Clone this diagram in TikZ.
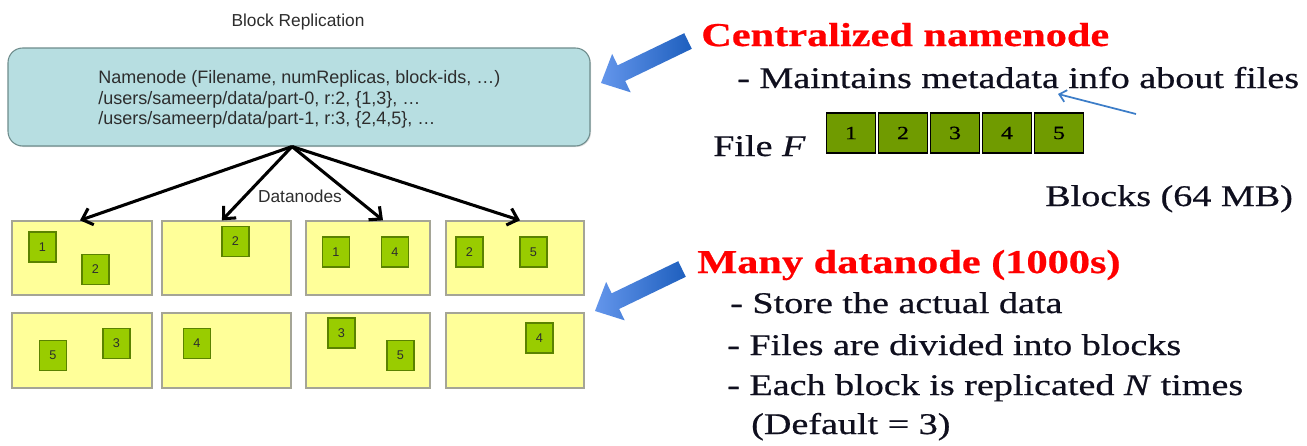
\documentclass[tikz,border=0pt]{standalone}
\usepackage{fontspec}
\setmainfont{Liberation Sans}
\newfontfamily\slide[FakeStretch=1.27,FakeBold=0.6]{Liberation Serif}
\usetikzlibrary{arrows.meta,calc,shadows}

\definecolor{nnfill}{RGB}{183,222,225}
\definecolor{nnedge}{RGB}{110,140,140}
\definecolor{dnfill}{RGB}{255,255,153}
\definecolor{dnedge}{RGB}{165,165,150}
\definecolor{blkfill}{RGB}{153,204,0}
\definecolor{blkedge}{RGB}{90,130,0}
\definecolor{strip}{RGB}{112,155,0}
\definecolor{hot}{RGB}{255,0,0}
\definecolor{ink}{RGB}{15,15,30}
\definecolor{grey}{RGB}{45,45,45}
\definecolor{pointer}{RGB}{60,125,200}
\definecolor{bigA}{RGB}{100,150,235}
\definecolor{bigB}{RGB}{30,95,190}

\tikzset{
  namebox/.style={draw=nnedge, fill=nnfill, rounded corners=11pt, line width=0.8pt,
    drop shadow={shadow xshift=0.8pt, shadow yshift=-0.8pt, opacity=0.25}},
  dn/.style={draw=dnedge, fill=dnfill, line width=1pt, inner sep=0pt,
    drop shadow={shadow xshift=0.8pt, shadow yshift=-0.8pt, opacity=0.2}},
  blk/.style={draw=blkedge, fill=blkfill, line width=0.8pt, minimum width=20.25pt,
    minimum height=22.5pt, inner sep=0pt, text=grey, font=\fontsize{9.5}{10}\selectfont},
  cell/.style={draw=black, fill=strip, line width=0.8pt, minimum width=36.75pt,
    minimum height=30pt, inner sep=0pt, font=\slide\fontsize{14}{16}\selectfont},
  link/.style={draw=black, line width=2.3pt, -{Straight Barb[length=7pt,width=13pt]}},
  sanslabel/.style={text=grey, font=\fontsize{13}{15.75}\selectfont},
  nnline/.style={anchor=base west, text=grey, inner sep=0pt, font=\fontsize{13.5}{15.75}\selectfont},
  head/.style={anchor=base west, inner sep=0pt, text=hot, font=\slide\bfseries\fontsize{25}{30}\selectfont},
  body/.style={anchor=base west, inner sep=0pt, text=ink, font=\slide\fontsize{22.5}{27}\selectfont},
  bigarrow/.style={left color=bigA, right color=bigB, draw=none},
  thin/.style={draw=pointer, line width=1.3pt, -{Straight Barb[length=5pt,width=9pt]}},
}

% block-arrow from tail #1 to tip #2
\newcommand\fatarrow[2]{%
  \coordinate (#1-neck) at ($(#2)!17pt!(#1)$);
  \path[bigarrow] ($(#1)!6.5pt!90:(#2)$) -- ($(#1-neck)!6.5pt!90:(#2)$)
    -- ($(#1-neck)!16pt!90:(#2)$) -- (#2) -- ($(#1-neck)!16pt!-90:(#2)$)
    -- ($(#1-neck)!6.5pt!-90:(#2)$) -- ($(#1)!6.5pt!-90:(#2)$) -- cycle;}

% datanode box given its corners in pixels
\newcommand\dnode[5]{%
  \node[dn, minimum width={(#4-#2)*0.75pt}, minimum height={(#5-#3)*0.75pt}]
    (#1) at ({(#2+#4)/2},{(#3+#5)/2}) {};}

\begin{document}
\begin{tikzpicture}[x=0.75pt, y=-0.75pt]
\useasboundingbox[fill=white] (0,0) rectangle (1307,446);

% ---------- namenode ----------
\node[sanslabel] (title) at (298,22) {Block Replication};
\node[namebox, minimum width=436.5pt, minimum height=73.5pt] (nn) at (299,97) {};
\node[nnline] (nl1) at (98,83) {Namenode (Filename, numReplicas, block-ids, \dots)};
\node[nnline] (nl2) at (98,104) {/users/sameerp/data/part-0, r:2, \{1,3\}, \dots};
\node[nnline] (nl3) at (98,124) {/users/sameerp/data/part-1, r:3, \{2,4,5\}, \dots};

% ---------- datanodes ----------
\dnode{d1}{12}{221}{152}{295}
\dnode{d2}{162}{221}{291}{295}
\dnode{d3}{306}{221}{430}{295}
\dnode{d4}{446}{221}{584}{295}
\dnode{d5}{12}{313}{152}{388}
\dnode{d6}{162}{313}{291}{388}
\dnode{d7}{306}{313}{430}{388}
\dnode{d8}{446}{313}{584}{388}

\node[blk] (b1a) at (42.5,247) {1};
\node[blk] (b1b) at (95.5,269.5) {2};
\node[blk] (b2a) at (235.5,241.5) {2};
\node[blk] (b3a) at (336,252) {1};
\node[blk] (b3b) at (395,252) {4};
\node[blk] (b4a) at (469.5,252) {2};
\node[blk] (b4b) at (533.5,252) {5};
\node[blk] (b5a) at (53,355.5) {5};
\node[blk] (b5b) at (116.5,343.5) {3};
\node[blk] (b6a) at (197,343.5) {4};
\node[blk] (b7a) at (341.5,333) {3};
\node[blk] (b7b) at (400.5,355.5) {5};
\node[blk] (b8a) at (539.5,338) {4};

\coordinate (src) at ([xshift=-5.25pt]nn.south);
\draw[link] (src) -- ([xshift=-1.5pt]d1.north);
\draw[link] (src) -- ([xshift=-3.4pt]d2.north);
\draw[link] (src) -- ([xshift=11.25pt]d3.north);
\draw[link] (src) -- ([xshift=3.75pt]d4.north);
\node[sanslabel] (dnlabel) at (300,196) {Datanodes};

% ---------- right-hand notes ----------
\coordinate (fa1) at (688,41);
\coordinate (fa1tip) at (601,83);
\fatarrow{fa1}{fa1tip}
\coordinate (fa2) at (682,269);
\coordinate (fa2tip) at (595,311);
\fatarrow{fa2}{fa2tip}

\node[head] (h1) at (701,46) {Centralized namenode};
\node[body] (t1) at (737,88) {- Maintains metadata info about files};

\node[body] (file) at (713,156) {File \textit{F}};
\node[cell] (c1) at (851,133) {1};
\node[cell] (c2) at (903,133) {2};
\node[cell] (c3) at (955,133) {3};
\node[cell] (c4) at (1007,133) {4};
\node[cell] (c5) at (1059,133) {5};
\node[body] (blocks) at (1045,206) {Blocks (64 MB)};

\coordinate (pt) at (1136,114);
\coordinate (ph) at (1058,94);
\draw[thin] (pt) -- (ph);

\node[head] (h2) at (697,273) {Many datanode (1000s)};
\node[body] (t2) at (730,313) {- Store the actual data};
\node[body] (t3) at (727,355) {- Files are divided into blocks};
\node[body] (t4) at (727,395) {- Each block is replicated \textit{N} times};
\node[body] (t5) at (751,434) {(Default = 3)};
\end{tikzpicture}
\end{document}
